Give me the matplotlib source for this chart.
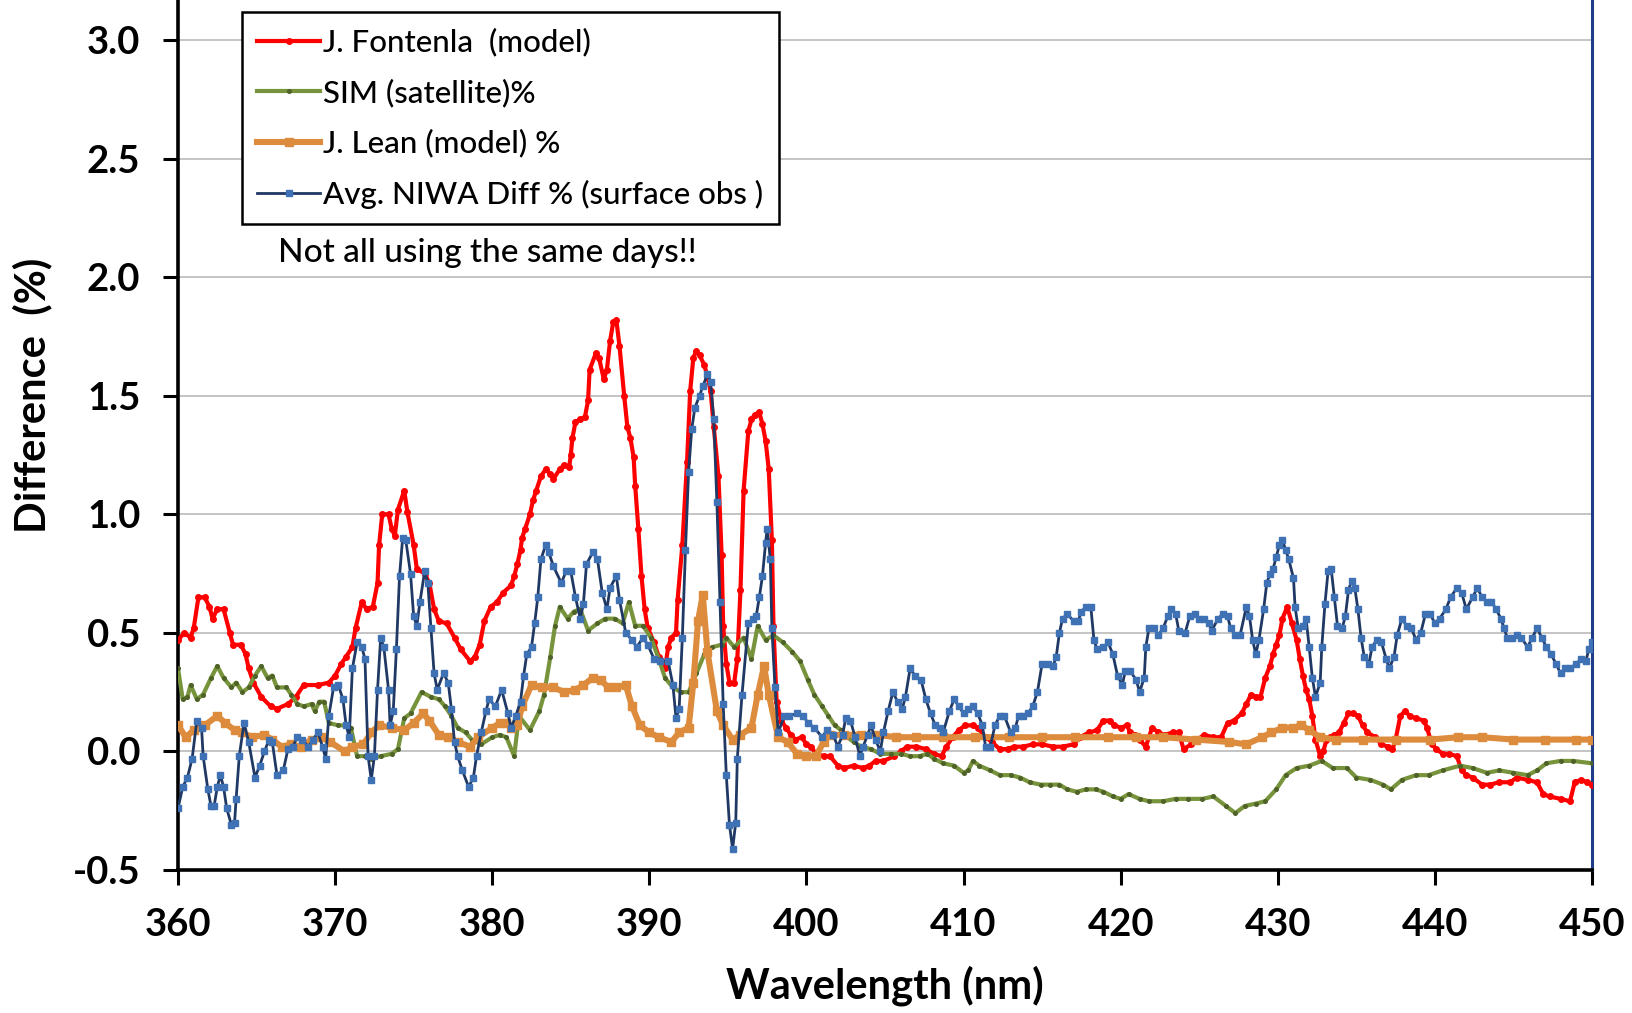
import numpy as np
import matplotlib
matplotlib.use("Agg")
import matplotlib.pyplot as plt

# J. Fontenla (model)
fontenla_wl = [360.0, 360.4, 360.8, 361.0, 361.3, 361.7, 362.0, 362.2, 362.5, 362.9, 363.3, 363.5, 364.0, 364.3,
               364.5, 364.8, 365.3, 365.9, 366.3, 367.0, 367.5, 368.0, 368.9, 369.6, 370.0, 370.4, 370.7, 371.1,
               371.3, 371.7, 372.0, 372.4, 372.7, 372.8, 373.0, 373.4, 373.6, 373.8, 374.0, 374.4, 374.6, 375.0,
               375.2, 375.7, 376.0, 376.3, 376.6, 377.1, 377.6, 378.0, 378.6, 378.9, 379.2, 379.5, 379.9, 380.3,
               380.7, 381.2, 381.4, 381.6, 381.8, 381.9, 382.1, 382.4, 382.6, 382.8, 383.1, 383.4, 383.7, 383.9,
               384.3, 384.6, 384.9, 385.0, 385.1, 385.3, 385.6, 385.9, 386.1, 386.2, 386.6, 386.8, 387.1, 387.3,
               387.5, 387.7, 387.9, 388.1, 388.4, 388.6, 388.8, 389.0, 389.1, 389.3, 389.5, 389.7, 389.9, 390.3,
               390.6, 391.0, 391.2, 391.4, 391.7, 391.8, 392.1, 392.4, 392.6, 392.8, 393.0, 393.2, 393.5, 393.7,
               393.9, 394.1, 394.4, 394.6, 394.7, 394.9, 395.1, 395.4, 395.6, 395.8, 396.0, 396.3, 396.5, 396.7,
               397.0, 397.2, 397.4, 397.6, 397.8, 397.9, 398.1, 398.4, 398.7, 399.0, 399.3, 399.7, 400.0, 400.3,
               400.6, 401.1, 401.5, 402.0, 402.4, 403.0, 403.6, 404.0, 404.4, 404.9, 405.6, 406.0, 406.4, 407.0,
               407.6, 408.1, 408.6, 408.9, 409.3, 409.7, 410.1, 410.6, 410.9, 411.4, 411.8, 412.3, 412.8, 413.2,
               413.8, 414.4, 415.0, 415.7, 416.3, 417.0, 417.4, 418.0, 418.5, 418.9, 419.3, 419.6, 420.0, 420.4,
               420.6, 420.9, 421.2, 421.6, 422.0, 422.4, 422.8, 423.3, 423.7, 424.0, 424.5, 424.9, 425.3, 425.9,
               426.4, 426.8, 427.2, 427.7, 428.0, 428.3, 428.6, 428.9, 429.2, 429.5, 429.7, 429.9, 430.1, 430.3,
               430.6, 430.9, 431.2, 431.4, 431.6, 431.8, 432.0, 432.2, 432.4, 432.7, 432.9, 433.1, 433.3, 433.6,
               433.9, 434.2, 434.5, 434.8, 435.1, 435.4, 435.7, 436.2, 436.6, 437.0, 437.3, 437.5, 437.8, 438.1,
               438.4, 438.8, 439.3, 439.5, 439.8, 440.1, 440.5, 440.9, 441.4, 441.7, 442.0, 442.4, 443.0, 443.5,
               444.1, 444.8, 445.2, 445.9, 446.5, 446.9, 447.3, 448.0, 448.6, 448.9, 449.3, 449.7, 450.0]
fontenla = [0.47, 0.50, 0.48, 0.52, 0.65, 0.65, 0.61, 0.56, 0.60, 0.60, 0.50, 0.45, 0.45, 0.41,
            0.35, 0.29, 0.23, 0.19, 0.18, 0.20, 0.23, 0.28, 0.28, 0.29, 0.32, 0.37, 0.40, 0.44,
            0.52, 0.63, 0.60, 0.61, 0.71, 0.87, 1.00, 1.00, 0.94, 0.91, 1.02, 1.10, 1.01, 0.87,
            0.77, 0.75, 0.71, 0.60, 0.55, 0.54, 0.48, 0.43, 0.38, 0.40, 0.45, 0.55, 0.61, 0.63,
            0.67, 0.70, 0.74, 0.79, 0.85, 0.90, 0.94, 1.00, 1.06, 1.10, 1.16, 1.19, 1.17, 1.15,
            1.19, 1.21, 1.20, 1.25, 1.32, 1.39, 1.40, 1.41, 1.48, 1.61, 1.68, 1.66, 1.57, 1.61,
            1.73, 1.81, 1.82, 1.71, 1.50, 1.37, 1.32, 1.24, 1.12, 0.94, 0.74, 0.60, 0.52, 0.46,
            0.40, 0.35, 0.44, 0.48, 0.50, 0.64, 0.87, 1.22, 1.52, 1.66, 1.69, 1.67, 1.63, 1.58,
            1.52, 1.37, 1.16, 0.83, 0.53, 0.37, 0.29, 0.29, 0.39, 0.68, 1.10, 1.35, 1.40, 1.42,
            1.43, 1.38, 1.31, 1.19, 0.89, 0.53, 0.21, 0.13, 0.10, 0.07, 0.05, 0.06, 0.03, 0.02,
            -0.01, -0.02, -0.02, -0.06, -0.07, -0.06, -0.07, -0.06, -0.04, -0.04, -0.02, 0.00, 0.02, 0.02,
            0.01, -0.01, -0.02, 0.02, 0.06, 0.09, 0.11, 0.11, 0.10, 0.06, 0.04, 0.01, 0.01, 0.02,
            0.02, 0.03, 0.03, 0.02, 0.02, 0.03, 0.06, 0.08, 0.09, 0.13, 0.13, 0.11, 0.10, 0.11,
            0.08, 0.07, 0.05, 0.02, 0.10, 0.08, 0.07, 0.08, 0.08, 0.01, 0.03, 0.05, 0.07, 0.06,
            0.06, 0.12, 0.13, 0.16, 0.20, 0.24, 0.23, 0.23, 0.31, 0.36, 0.41, 0.45, 0.49, 0.56,
            0.61, 0.54, 0.47, 0.39, 0.32, 0.26, 0.22, 0.15, 0.05, -0.02, 0.00, 0.05, 0.06, 0.07,
            0.08, 0.12, 0.16, 0.16, 0.15, 0.11, 0.08, 0.06, 0.03, 0.02, 0.01, 0.05, 0.15, 0.17,
            0.15, 0.14, 0.13, 0.10, 0.03, 0.01, -0.01, -0.01, -0.02, -0.08, -0.10, -0.11, -0.14, -0.14,
            -0.13, -0.13, -0.11, -0.12, -0.13, -0.18, -0.19, -0.20, -0.21, -0.13, -0.12, -0.13, -0.14]

# SIM (satellite)
sim_wl = [360.0, 360.3, 360.6, 360.8, 361.2, 361.6, 362.1, 362.5, 362.9, 363.4, 363.7, 364.1, 364.5, 364.9,
          365.3, 365.7, 366.0, 366.3, 366.9, 367.2, 367.6, 368.0, 368.5, 368.7, 369.0, 369.3, 369.6, 370.2,
          370.6, 371.0, 371.4, 371.9, 372.3, 372.9, 373.6, 374.0, 374.4, 374.8, 375.5, 376.1, 376.6, 377.0,
          377.4, 377.8, 378.3, 378.7, 379.3, 380.0, 380.5, 380.9, 381.4, 381.7, 382.4, 383.0, 383.3, 383.7,
          384.0, 384.3, 384.8, 385.2, 385.6, 386.1, 386.7, 387.2, 387.8, 388.3, 388.7, 389.1, 389.6, 390.1,
          390.6, 391.0, 391.5, 392.0, 392.5, 393.0, 393.5, 394.0, 394.6, 394.9, 395.4, 396.0, 396.5, 396.9,
          397.4, 397.9, 398.5, 399.1, 399.6, 400.1, 400.5, 401.0, 401.4, 401.8, 402.2, 402.6, 403.0, 403.5,
          404.1, 404.7, 405.4, 406.0, 406.6, 407.2, 407.7, 408.1, 408.7, 409.4, 410.0, 410.3, 410.6, 411.0,
          411.7, 412.3, 413.0, 413.6, 414.2, 414.9, 415.5, 416.1, 416.6, 417.2, 417.8, 418.4, 418.9, 419.5,
          420.0, 420.5, 421.2, 421.8, 422.7, 423.5, 424.3, 425.2, 425.9, 426.7, 427.3, 427.9, 428.6, 429.2,
          429.9, 430.5, 431.2, 432.0, 432.8, 433.5, 434.4, 435.0, 435.9, 436.7, 437.2, 437.9, 438.8, 439.6,
          440.5, 441.6, 442.4, 443.3, 444.1, 445.0, 445.9, 446.5, 447.1, 448.0, 448.8, 450.0]
sim = [0.35, 0.22, 0.23, 0.28, 0.22, 0.24, 0.31, 0.36, 0.31, 0.27, 0.29, 0.25, 0.27, 0.32,
       0.36, 0.31, 0.32, 0.27, 0.27, 0.24, 0.20, 0.19, 0.20, 0.17, 0.21, 0.21, 0.12, 0.11,
       0.11, 0.10, -0.02, -0.02, -0.03, -0.02, -0.01, 0.01, 0.14, 0.16, 0.25, 0.23, 0.22, 0.19,
       0.15, 0.10, 0.08, 0.05, 0.03, 0.06, 0.07, 0.06, -0.02, 0.15, 0.09, 0.17, 0.24, 0.40,
       0.53, 0.61, 0.56, 0.59, 0.60, 0.51, 0.54, 0.56, 0.56, 0.54, 0.63, 0.53, 0.53, 0.48,
       0.39, 0.31, 0.27, 0.25, 0.25, 0.33, 0.41, 0.44, 0.45, 0.48, 0.44, 0.48, 0.39, 0.53,
       0.47, 0.49, 0.46, 0.42, 0.38, 0.30, 0.24, 0.19, 0.15, 0.11, 0.09, 0.06, 0.04, 0.02,
       0.01, -0.01, -0.01, -0.01, -0.02, -0.02, -0.01, -0.03, -0.05, -0.06, -0.09, -0.08, -0.04, -0.06,
       -0.08, -0.10, -0.10, -0.11, -0.13, -0.14, -0.14, -0.14, -0.16, -0.17, -0.16, -0.16, -0.17, -0.19,
       -0.20, -0.18, -0.20, -0.21, -0.21, -0.20, -0.20, -0.20, -0.19, -0.23, -0.26, -0.23, -0.22, -0.21,
       -0.16, -0.10, -0.07, -0.06, -0.04, -0.07, -0.07, -0.11, -0.12, -0.14, -0.16, -0.12, -0.10, -0.10,
       -0.08, -0.06, -0.07, -0.09, -0.08, -0.09, -0.10, -0.08, -0.05, -0.04, -0.04, -0.05]

# J. Lean (model)
lean_wl = [360.0, 360.5, 361.0, 361.7, 362.5, 363.0, 363.6, 364.1, 364.7, 365.5, 366.0, 366.6, 367.2, 367.8,
           368.5, 369.1, 369.7, 370.6, 371.1, 371.8, 372.3, 372.8, 373.6, 374.4, 375.0, 375.6, 376.0, 376.6,
           377.2, 377.8, 378.6, 379.1, 380.0, 380.5, 380.9, 381.2, 381.6, 381.9, 382.5, 383.2, 383.9, 384.6,
           385.3, 385.8, 386.4, 386.9, 387.4, 387.9, 388.5, 388.9, 389.4, 390.0, 390.6, 391.4, 391.9, 392.5,
           392.8, 393.1, 393.4, 393.7, 394.3, 394.7, 395.3, 395.8, 396.5, 396.9, 397.3, 397.6, 398.2, 398.8,
           399.4, 400.0, 400.6, 401.1, 401.5, 402.4, 403.5, 404.5, 405.7, 407.0, 408.7, 410.7, 412.9, 415.0,
           417.1, 419.2, 421.0, 422.7, 424.8, 426.9, 428.0, 429.0, 429.6, 430.3, 431.0, 431.5, 432.0, 432.7,
           433.7, 435.4, 437.5, 439.7, 441.5, 443.0, 445.0, 447.0, 449.0, 450.0]
lean = [0.11, 0.06, 0.09, 0.11, 0.15, 0.12, 0.09, 0.08, 0.06, 0.07, 0.05, 0.02, 0.03, 0.02,
        0.05, 0.06, 0.04, 0.00, 0.02, 0.03, 0.08, 0.11, 0.10, 0.09, 0.12, 0.16, 0.13, 0.07,
        0.06, 0.04, 0.02, 0.06, 0.10, 0.12, 0.12, 0.10, 0.11, 0.19, 0.28, 0.27, 0.27, 0.25,
        0.26, 0.28, 0.31, 0.30, 0.27, 0.27, 0.28, 0.19, 0.11, 0.08, 0.06, 0.04, 0.08, 0.10,
        0.29, 0.55, 0.66, 0.42, 0.17, 0.11, 0.05, 0.07, 0.10, 0.24, 0.36, 0.24, 0.06, 0.04,
        -0.01, -0.02, -0.02, 0.04, 0.07, 0.07, 0.07, 0.07, 0.06, 0.06, 0.06, 0.06, 0.06, 0.06,
        0.06, 0.06, 0.06, 0.06, 0.05, 0.04, 0.03, 0.06, 0.08, 0.10, 0.10, 0.11, 0.09, 0.06,
        0.05, 0.05, 0.05, 0.05, 0.06, 0.06, 0.05, 0.05, 0.05, 0.05]

# Avg. NIWA Diff % (surface obs)
niwa_wl = [360.0, 360.3, 360.6, 360.9, 361.2, 361.5, 361.6, 361.9, 362.1, 362.3, 362.5, 362.7, 362.9, 363.1,
           363.4, 363.6, 363.7, 363.9, 364.2, 364.5, 364.9, 365.2, 365.5, 365.8, 366.0, 366.3, 366.7, 367.0,
           367.3, 367.6, 367.9, 368.3, 368.6, 368.9, 369.2, 369.4, 369.6, 369.9, 370.2, 370.5, 370.7, 370.9,
           371.1, 371.4, 371.7, 371.9, 372.1, 372.3, 372.5, 372.7, 372.9, 373.1, 373.4, 373.5, 373.7, 373.9,
           374.1, 374.3, 374.5, 374.8, 375.0, 375.2, 375.4, 375.7, 375.9, 376.1, 376.3, 376.5, 376.9, 377.2,
           377.4, 377.6, 377.8, 378.1, 378.5, 378.8, 379.0, 379.3, 379.6, 379.8, 380.2, 380.6, 381.0, 381.2,
           381.5, 381.8, 382.0, 382.2, 382.5, 382.7, 382.9, 383.1, 383.4, 383.6, 383.9, 384.4, 384.7, 385.0,
           385.3, 385.6, 385.8, 386.0, 386.4, 386.7, 387.0, 387.3, 387.5, 387.9, 388.1, 388.5, 388.9, 389.2,
           389.6, 389.9, 390.3, 390.7, 391.2, 391.5, 391.7, 391.9, 392.1, 392.3, 392.5, 392.7, 392.9, 393.2,
           393.4, 393.7, 393.9, 394.1, 394.3, 394.5, 394.7, 394.9, 395.1, 395.3, 395.5, 395.6, 395.9, 396.3,
           396.6, 396.8, 397.0, 397.2, 397.4, 397.5, 397.7, 397.8, 398.0, 398.2, 398.6, 398.9, 399.4, 399.8,
           400.1, 400.5, 401.0, 401.3, 401.7, 402.0, 402.3, 402.5, 402.8, 403.1, 403.4, 403.6, 403.9, 404.1,
           404.4, 404.7, 404.9, 405.2, 405.5, 405.8, 406.1, 406.3, 406.6, 406.9, 407.3, 407.6, 407.9, 408.2,
           408.5, 408.7, 409.1, 409.4, 409.7, 410.0, 410.3, 410.6, 410.9, 411.2, 411.4, 411.7, 412.0, 412.3,
           412.6, 413.0, 413.3, 413.5, 413.8, 414.1, 414.4, 414.7, 415.0, 415.4, 415.7, 415.9, 416.1, 416.3,
           416.6, 417.0, 417.3, 417.5, 417.8, 418.1, 418.3, 418.5, 418.9, 419.2, 419.5, 419.8, 420.1, 420.3,
           420.6, 421.0, 421.2, 421.5, 421.6, 421.8, 422.1, 422.4, 422.7, 423.0, 423.2, 423.5, 423.7, 424.1,
           424.4, 424.7, 425.0, 425.3, 425.6, 425.8, 426.2, 426.5, 426.8, 427.0, 427.3, 427.6, 428.0, 428.2,
           428.4, 428.6, 428.8, 429.1, 429.3, 429.5, 429.7, 429.9, 430.1, 430.3, 430.5, 430.7, 431.0, 431.1,
           431.3, 431.6, 431.8, 432.0, 432.2, 432.4, 432.7, 432.8, 433.0, 433.2, 433.4, 433.6, 433.8, 434.1,
           434.3, 434.5, 434.7, 434.9, 435.1, 435.3, 435.5, 435.8, 436.0, 436.3, 436.6, 436.9, 437.1, 437.4,
           437.6, 437.9, 438.2, 438.5, 438.8, 439.1, 439.4, 439.7, 440.0, 440.3, 440.7, 441.0, 441.4, 441.7,
           442.0, 442.4, 442.7, 443.0, 443.3, 443.6, 443.9, 444.2, 444.4, 444.6, 444.9, 445.2, 445.5, 445.9,
           446.2, 446.5, 446.8, 447.1, 447.4, 447.7, 448.0, 448.3, 448.6, 449.0, 449.3, 449.6, 449.8, 450.0]
niwa = [-0.24, -0.15, -0.11, -0.03, 0.13, 0.10, -0.02, -0.16, -0.23, -0.23, -0.15, -0.10, -0.15, -0.24,
        -0.31, -0.30, -0.20, -0.02, 0.12, 0.04, -0.11, -0.06, 0.00, 0.05, 0.04, -0.10, -0.08, 0.01,
        0.02, 0.06, 0.05, 0.02, 0.05, 0.08, 0.02, -0.03, 0.15, 0.27, 0.28, 0.22, 0.11, 0.06,
        0.35, 0.46, 0.44, 0.39, -0.02, -0.12, -0.02, 0.26, 0.48, 0.44, 0.26, 0.11, 0.17, 0.43,
        0.74, 0.90, 0.89, 0.75, 0.57, 0.53, 0.63, 0.76, 0.71, 0.52, 0.33, 0.26, 0.33, 0.29,
        0.18, 0.04, -0.02, -0.08, -0.15, -0.11, -0.02, 0.08, 0.17, 0.22, 0.19, 0.26, 0.16, 0.10,
        0.15, 0.21, 0.32, 0.41, 0.44, 0.54, 0.65, 0.81, 0.87, 0.84, 0.78, 0.71, 0.76, 0.76,
        0.65, 0.56, 0.62, 0.79, 0.84, 0.81, 0.67, 0.60, 0.69, 0.74, 0.64, 0.50, 0.47, 0.44,
        0.48, 0.45, 0.39, 0.38, 0.38, 0.28, 0.14, 0.18, 0.48, 0.85, 1.18, 1.36, 1.45, 1.50,
        1.54, 1.59, 1.56, 1.40, 1.05, 0.63, 0.20, -0.10, -0.31, -0.41, -0.30, -0.03, 0.24, 0.54,
        0.56, 0.57, 0.65, 0.74, 0.88, 0.94, 0.81, 0.52, 0.27, 0.08, 0.15, 0.15, 0.16, 0.15,
        0.12, 0.10, 0.06, 0.09, 0.07, 0.02, 0.07, 0.14, 0.13, 0.06, -0.02, 0.02, 0.07, 0.11,
        0.05, 0.00, 0.08, 0.17, 0.25, 0.21, 0.18, 0.23, 0.35, 0.32, 0.30, 0.22, 0.16, 0.11,
        0.10, 0.08, 0.17, 0.22, 0.19, 0.16, 0.18, 0.19, 0.16, 0.11, 0.02, 0.02, 0.11, 0.15,
        0.15, 0.08, 0.10, 0.15, 0.15, 0.16, 0.19, 0.25, 0.37, 0.37, 0.36, 0.40, 0.50, 0.56,
        0.58, 0.55, 0.55, 0.59, 0.61, 0.61, 0.47, 0.43, 0.44, 0.46, 0.41, 0.32, 0.28, 0.34,
        0.34, 0.30, 0.25, 0.31, 0.44, 0.52, 0.52, 0.49, 0.52, 0.57, 0.60, 0.58, 0.51, 0.50,
        0.57, 0.58, 0.56, 0.56, 0.54, 0.51, 0.56, 0.58, 0.57, 0.52, 0.49, 0.49, 0.61, 0.57,
        0.47, 0.41, 0.47, 0.60, 0.71, 0.75, 0.77, 0.82, 0.87, 0.89, 0.85, 0.81, 0.73, 0.61,
        0.52, 0.53, 0.56, 0.44, 0.31, 0.23, 0.29, 0.44, 0.62, 0.76, 0.77, 0.65, 0.53, 0.52,
        0.57, 0.68, 0.72, 0.69, 0.60, 0.48, 0.40, 0.37, 0.44, 0.47, 0.46, 0.39, 0.35, 0.40,
        0.49, 0.56, 0.53, 0.52, 0.47, 0.50, 0.58, 0.58, 0.54, 0.56, 0.60, 0.65, 0.69, 0.67,
        0.60, 0.65, 0.69, 0.65, 0.63, 0.63, 0.60, 0.56, 0.52, 0.48, 0.48, 0.49, 0.48, 0.44,
        0.48, 0.52, 0.48, 0.44, 0.41, 0.37, 0.33, 0.35, 0.35, 0.37, 0.39, 0.38, 0.43, 0.46]

labels = ["J. Fontenla  (model)", "SIM (satellite)%", "J. Lean (model) %", "Avg. NIWA Diff % (surface obs )"]
note = "Not all using the same days!!"
xticks = np.arange(360, 451, 10)
yticks = np.arange(-0.5, 3.01, 0.5)

plt.rcParams['font.family'] = ['Lato', 'DejaVu Sans']

fig = plt.figure(figsize=(16.32, 10.13), dpi=100)
ax = fig.add_axes([178 / 1632, 143 / 1013, 1414 / 1632, 870 / 1013])

ax.plot(fontenla_wl, fontenla, color='#FF0000', lw=3.0, marker='o', ms=4, label=labels[0], zorder=3)
ax.plot(sim_wl, sim, color='#77933C', lw=3.0, marker='o', ms=2.6, mfc='#4F6228', mec='#4F6228',
        label=labels[1], zorder=3)
ax.plot(lean_wl, lean, color='#DD8B3C', lw=4.4, marker='s', ms=5.5, label=labels[2], zorder=3)
ax.plot(niwa_wl, niwa, color='#1F3864', lw=2.0, marker='s', ms=4, mfc='#3F72B5', mec='#3F72B5',
        label=labels[3], zorder=4)

ax.set_xlim(360, 450)
ax.set_ylim(-0.5, 3.169)
ax.set_xticks(xticks)
ax.set_yticks(yticks)
ax.set_yticklabels([f"{v:.1f}" for v in yticks])
ax.grid(axis='y', color='#BFBFBF', lw=1.3)
ax.set_axisbelow(True)

for s in ['left', 'bottom']:
    ax.spines[s].set_linewidth(2.6)
    ax.spines[s].set_color('black')
ax.spines['top'].set_visible(False)
ax.spines['right'].set_color('#1F3C88')
ax.spines['right'].set_linewidth(2.2)

ax.tick_params(axis='both', direction='out', length=11, width=2.2, labelsize=27.5, pad=16)
for t in ax.get_xticklabels() + ax.get_yticklabels():
    t.set_fontweight('bold')

ax.set_xlabel("Wavelength (nm)", fontsize=30, fontweight='bold')
ax.xaxis.set_label_coords(0.5, -0.11)
ax.set_ylabel("Difference  (%)", fontsize=30, fontweight='bold')
ax.yaxis.set_label_coords(-0.089, 0.545)

leg = ax.legend(loc='upper left', bbox_to_anchor=(0.045, 0.986), borderaxespad=0,
                prop={'size': 22.5, 'weight': 'medium'},
                frameon=True, fancybox=False, framealpha=1, edgecolor='black',
                handlelength=2.0, handletextpad=0.1, labelspacing=0.7, borderpad=0.5)
leg.get_frame().set_linewidth(1.8)

ax.text(0.071, 0.709, note, transform=ax.transAxes, fontsize=24, fontweight='medium',
        va='center', ha='left')

fig.savefig("out.png", dpi=100)
